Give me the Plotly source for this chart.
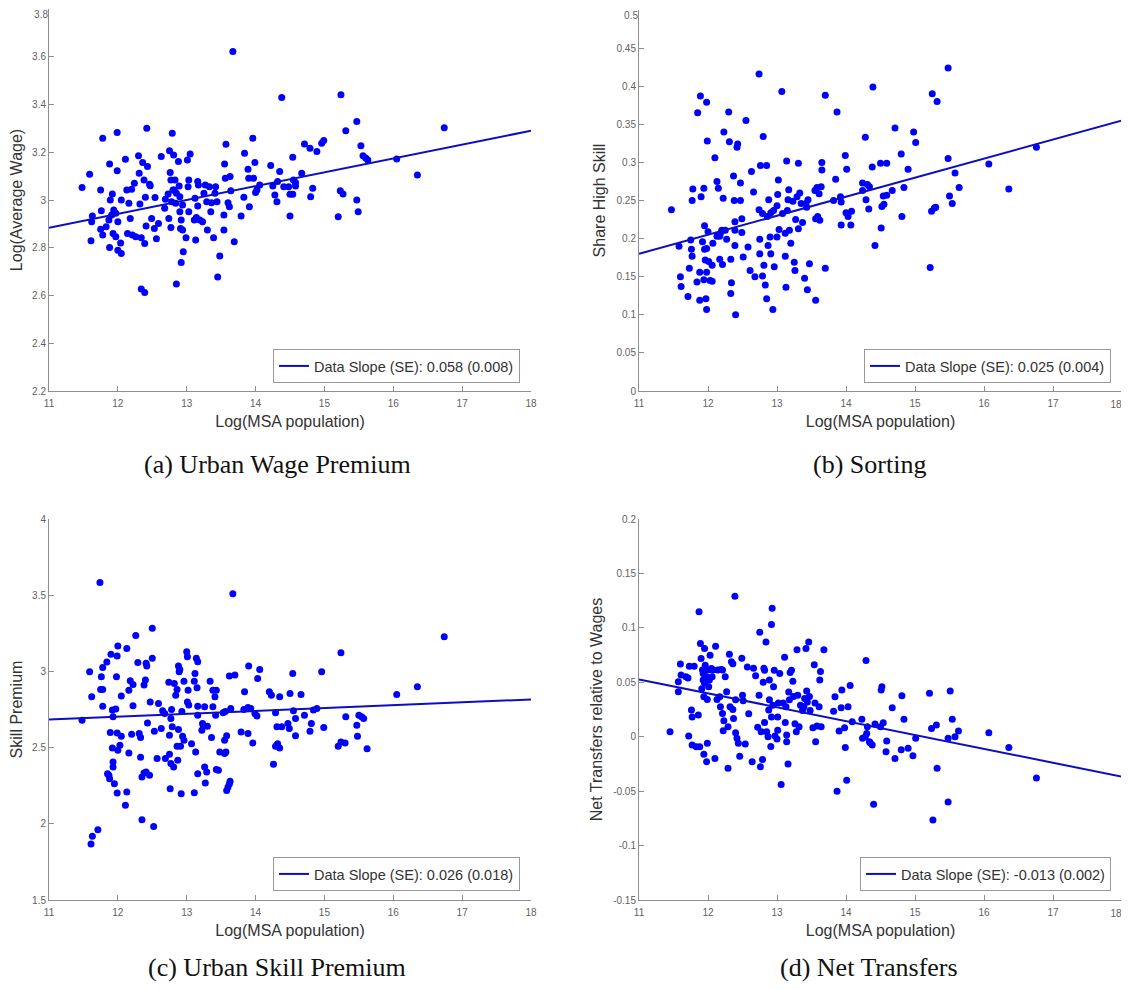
import plotly.graph_objects as go

# the page body adds an 8px margin on every side; the figure is sized and positioned to compensate
OFF = 8
W, H = 1129 - OFF, 990 - 2 * OFF

# ---------------- data: (a) Urban Wage Premium ----------------
xa = [11.48, 11.59, 11.61, 11.63, 11.62, 11.75, 11.78, 11.76, 11.75, 11.78, 11.83, 11.88, 11.88, 11.89, 11.92,
      11.87, 11.91, 11.94, 11.97, 11.93, 11.97, 11.99, 11.99, 12.00, 12.00, 12.05, 12.05, 12.04, 12.11, 12.13,
      12.16, 12.18, 12.14, 12.21, 12.24, 12.20, 12.26, 12.30, 12.31, 12.32, 12.36, 12.38, 12.34, 12.39, 12.42,
      12.43, 12.40, 12.47, 12.46, 12.41, 12.34, 12.39, 12.49, 12.53, 12.54, 12.56, 12.59, 12.63, 12.68, 12.69,
      12.73, 12.75, 12.76, 12.77, 12.79, 12.81, 12.80, 12.78, 12.74, 12.77, 12.83, 12.84, 12.85, 12.82, 12.88,
      12.90, 12.89, 12.90, 12.91, 12.92, 12.94, 12.95, 12.92, 12.94, 12.85, 12.99, 13.01, 13.05, 13.03, 13.02,
      13.03, 13.12, 13.11, 13.13, 13.16, 13.17, 13.16, 13.14, 13.19, 13.23, 13.25, 13.27, 13.29, 13.30, 13.33,
      13.35, 13.36, 13.39, 13.41, 13.42, 13.44, 13.48, 13.45, 13.54, 13.54, 13.55, 13.57, 13.56, 13.60, 13.62,
      13.63, 13.64, 13.67, 13.69, 13.79, 13.83, 13.84, 13.89, 13.90, 13.91, 13.96, 13.99, 13.97, 14.00, 14.02,
      14.06, 14.22, 14.25, 14.28, 14.31, 14.32, 14.35, 14.38,
      14.41, 14.48, 14.54, 14.54, 14.50, 14.58, 14.58, 14.50, 14.55, 14.67, 14.71, 14.79, 14.83, 14.80, 14.89,
      14.96, 14.99, 15.24, 15.31, 15.23, 15.27, 15.20, 15.47, 15.53, 15.56, 15.60, 15.63, 15.47, 15.49, 16.05,
      16.35, 16.74]
ya = [3.052, 3.108, 2.829, 2.933, 2.909, 3.042, 3.259, 2.955, 2.877, 2.853, 2.888, 2.801, 3.151, 3.000, 3.025,
      2.916, 2.937, 2.958, 2.944, 2.860, 2.846, 3.283, 3.122, 2.909, 2.790, 3.000, 2.776, 2.820, 3.171, 3.042,
      2.986, 2.923, 2.860, 2.853, 3.070, 3.045, 2.846, 3.185, 3.112, 2.983, 3.157, 3.084, 2.842, 2.818, 3.301,
      3.140, 3.011, 3.060, 3.066, 2.891, 2.627, 2.613, 2.923, 2.881, 3.010, 2.838, 2.902, 3.182, 2.965, 3.003,
      3.025, 3.206, 3.115, 3.084, 3.280, 3.189, 3.042, 2.993, 2.923, 2.885, 3.084, 2.986, 3.028, 3.042, 3.161,
      3.014, 3.059, 2.951, 2.881, 2.916, 2.874, 2.783, 2.738, 2.979, 2.648, 2.842, 3.168, 3.193, 3.084, 3.056,
      2.951, 3.007, 2.916, 2.832, 3.077, 3.063, 2.975, 2.927, 2.916, 2.909, 3.028, 3.063, 2.993, 2.874, 3.056,
      2.951, 2.989, 2.842, 3.028, 3.056, 2.993, 2.765, 2.678, 2.874, 2.937, 3.151, 3.234, 3.091, 2.989, 2.972,
      3.098, 3.039, 3.622, 2.825, 2.933, 3.011, 3.196, 3.129, 3.091, 2.972, 3.259, 3.157, 3.091, 3.031, 3.042,
      3.063, 3.144, 3.059, 3.021, 2.993, 3.077, 3.119, 3.429,
      3.056, 3.056, 3.179, 3.024, 3.024, 3.073, 3.059, 2.933, 3.084, 3.112, 3.235, 3.217, 3.049, 3.014, 3.203,
      3.238, 3.249, 3.441, 3.290, 3.039, 3.025, 2.930, 3.329, 3.227, 3.185, 3.176, 3.168, 3.000, 2.951, 3.172,
      3.105, 3.303]

# ---------------- data: (b) Sorting ----------------
xb = [11.47, 11.58, 11.60, 11.61, 11.71, 11.73, 11.75, 11.77, 11.76, 11.78, 11.77, 11.84, 11.85, 11.89, 11.88,
      11.88, 11.90, 11.94, 11.92, 11.94, 11.95, 11.95, 11.96, 11.97, 11.98, 11.98, 11.98, 11.99, 12.00, 11.98,
      12.01, 12.03, 12.06, 12.07, 12.06, 12.10, 12.13, 12.15, 12.13, 12.17, 12.18, 12.20, 12.17, 12.21, 12.23,
      12.22, 12.25, 12.27, 12.30, 12.31, 12.33, 12.34, 12.33, 12.37, 12.38, 12.39, 12.39, 12.39, 12.40, 12.42,
      12.43, 12.47, 12.47, 12.49, 12.49, 12.51, 12.55, 12.58, 12.61, 12.63, 12.66, 12.68, 12.74, 12.74, 12.75,
      12.75, 12.76, 12.79, 12.79, 12.80, 12.81, 12.83, 12.85, 12.85, 12.86, 12.88, 12.87, 12.90, 12.91, 12.91,
      12.94, 12.95, 12.96, 13.00, 13.01, 13.02, 13.00, 13.03, 13.07, 13.08, 13.12, 13.12, 13.13, 13.14, 13.15,
      13.16, 13.17, 13.18, 13.20, 13.23, 13.25, 13.26, 13.27, 13.29, 13.31, 13.31, 13.33, 13.35, 13.37, 13.40,
      13.42, 13.43, 13.44, 13.45, 13.47,
      13.56, 13.55, 13.58, 13.61, 13.64, 13.56, 13.59, 13.62, 13.65, 13.65, 13.70, 13.70, 13.82, 13.85, 13.87,
      13.92, 13.93, 13.93, 13.99, 14.00, 14.01, 14.03, 14.07, 14.08, 14.24, 14.24, 14.28, 14.29, 14.31, 14.34,
      14.33, 14.38, 14.39, 14.42, 14.50, 14.51, 14.52, 14.54, 14.55, 14.59, 14.59, 14.67, 14.71, 14.80, 14.81,
      14.84, 14.90, 14.98, 15.01, 15.22, 15.24, 15.25, 15.28, 15.30, 15.32, 15.48, 15.48, 15.50, 15.54, 15.58,
      15.64, 16.07, 16.36, 16.76]
yb = [0.238, 0.190, 0.150, 0.137, 0.124, 0.161, 0.198, 0.177, 0.186, 0.265, 0.250, 0.143, 0.365, 0.387, 0.156,
      0.119, 0.255, 0.266, 0.196, 0.146, 0.217, 0.186, 0.172, 0.121, 0.379, 0.187, 0.156, 0.328, 0.209, 0.107,
      0.170, 0.145, 0.165, 0.194, 0.144, 0.306, 0.275, 0.266, 0.203, 0.203, 0.207, 0.211, 0.173, 0.166, 0.340,
      0.253, 0.211, 0.199, 0.366, 0.327, 0.173, 0.142, 0.128, 0.282, 0.250, 0.222, 0.211, 0.191, 0.100, 0.320,
      0.324, 0.273, 0.250, 0.226, 0.208, 0.176, 0.355, 0.189, 0.158, 0.288, 0.261, 0.150, 0.416, 0.238, 0.180,
      0.199, 0.296, 0.151, 0.233, 0.334, 0.165, 0.139, 0.121, 0.296, 0.229, 0.251, 0.191, 0.202, 0.180, 0.234,
      0.107, 0.237, 0.163, 0.243, 0.258, 0.277, 0.202, 0.212, 0.393, 0.233, 0.177, 0.207, 0.136, 0.302, 0.237,
      0.251, 0.264, 0.211, 0.194, 0.249, 0.169, 0.158, 0.225, 0.255, 0.299, 0.213, 0.260, 0.246, 0.221, 0.148,
      0.246, 0.241, 0.133, 0.251, 0.167,
      0.119, 0.263, 0.267, 0.259, 0.268, 0.226, 0.229, 0.224, 0.300, 0.290, 0.388, 0.161, 0.250, 0.278, 0.366,
      0.255, 0.248, 0.218, 0.309, 0.234, 0.291, 0.229, 0.218, 0.236, 0.273, 0.263, 0.333, 0.251, 0.271, 0.268,
      0.239, 0.294, 0.399, 0.191, 0.299, 0.214, 0.242, 0.256, 0.245, 0.299, 0.257, 0.263, 0.345, 0.311, 0.229,
      0.267, 0.291, 0.340, 0.326, 0.162, 0.236, 0.390, 0.240, 0.241, 0.380, 0.424, 0.305, 0.256, 0.246, 0.286,
      0.267, 0.298, 0.265, 0.320]

# ---------------- data: (c) Urban Skill Premium ----------------
xc = [11.48, 11.59, 11.62, 11.61, 11.63, 11.71, 11.74, 11.76, 11.78, 11.75, 11.78, 11.78, 11.84, 11.85, 11.87,
      11.88, 11.89, 11.90, 11.92, 11.93, 11.92, 11.93, 11.93, 11.95, 11.98, 11.99, 12.00, 11.97, 11.99, 12.00,
      11.99, 12.03, 12.05, 12.05, 12.13, 12.13, 12.11, 12.16, 12.16, 12.18, 12.22, 12.22, 12.20, 12.26, 12.29,
      12.31, 12.33, 12.33, 12.35, 12.35, 12.38, 12.40, 12.41, 12.42, 12.38, 12.41, 12.46, 12.43, 12.47, 12.50,
      12.50, 12.52, 12.53, 12.57, 12.59, 12.63, 12.65, 12.68, 12.69, 12.74, 12.75, 12.75, 12.76, 12.77, 12.77,
      12.78, 12.79, 12.81, 12.82, 12.84, 12.86, 12.86, 12.87, 12.88, 12.89, 12.90, 12.88, 12.91, 12.92, 12.93,
      12.94, 12.96, 12.96, 13.00, 13.01, 13.01, 13.02, 13.03, 13.07, 13.11, 13.12, 13.11, 13.14, 13.15, 13.16,
      13.16, 13.16, 13.13, 13.16, 13.22, 13.23, 13.24, 13.26, 13.27, 13.26, 13.29, 13.30, 13.34, 13.36, 13.38,
      13.38, 13.41, 13.42, 13.43, 13.43, 13.46, 13.48, 13.53, 13.55, 13.56, 13.58, 13.60, 13.62, 13.63, 13.58,
      13.57, 13.55, 13.62, 13.64, 13.67, 13.70, 13.79, 13.83, 13.84, 13.89, 13.89, 13.90, 13.93, 13.96, 13.99,
      14.02, 14.03, 14.06, 14.20, 14.23, 14.26, 14.29, 14.29, 14.31, 14.32, 14.35, 14.35, 14.38, 14.47,
      14.50, 14.49, 14.54, 14.55, 14.58, 14.58, 14.66, 14.71, 14.79, 14.81, 14.84, 14.89, 14.96, 14.99, 15.24,
      15.20, 15.24, 15.30, 15.31, 15.47, 15.48, 15.50, 15.54, 15.57, 15.62, 16.05, 16.35, 16.74]
yc = [2.680, 2.998, 2.833, 1.868, 1.919, 1.961, 3.583, 2.965, 3.026, 2.882, 2.882, 2.772, 3.061, 2.329, 2.318,
      2.296, 2.599, 3.112, 2.746, 2.702, 2.498, 2.406, 2.373, 2.263, 2.965, 3.101, 3.167, 2.754, 2.596, 2.482,
      2.202, 2.515, 2.838, 2.575, 3.151, 2.208, 2.121, 2.877, 2.465, 2.939, 2.774, 2.914, 2.588, 3.235, 3.059,
      2.592, 2.436, 2.566, 2.307, 2.026, 2.910, 2.943, 3.053, 3.035, 2.333, 2.340, 2.318, 2.662, 2.800, 3.086,
      3.283, 1.982, 2.607, 2.428, 2.789, 2.625, 2.741, 2.724, 2.428, 2.928, 2.581, 2.456, 2.230, 2.691, 2.395,
      2.750, 2.636, 2.373, 2.921, 2.844, 2.882, 2.509, 2.417, 3.035, 2.998, 3.013, 2.618, 2.509, 2.197, 2.737,
      2.575, 2.936, 2.548, 3.129, 3.096, 2.800, 2.877, 2.779, 2.526, 2.936, 2.987, 2.204, 3.086, 2.893, 3.064,
      2.772, 2.713, 2.471, 2.329, 2.614, 2.658, 2.647, 2.768, 2.268, 2.373, 2.340, 2.640, 2.936, 2.566, 2.768,
      2.877, 2.833, 2.713, 2.877, 2.357, 2.351, 2.471, 2.728, 2.548, 2.737, 2.219, 2.241, 2.263, 2.279, 2.577,
      2.471, 2.461, 2.969, 2.757, 3.509, 2.976, 2.603, 2.750, 2.866, 2.592, 2.763, 3.035, 2.757, 2.531, 2.724,
      2.708, 2.954, 3.013, 2.866, 2.844, 2.390, 2.509, 2.728, 2.636, 2.526, 2.833, 2.498, 2.636, 2.658,
      2.855, 2.625, 2.987, 2.741, 2.691, 2.577, 2.849, 2.713, 2.607, 2.658, 2.746, 2.757, 2.998, 2.632, 3.123,
      2.509, 2.537, 2.531, 2.702, 2.647, 2.575, 2.713, 2.702, 2.691, 2.493, 2.849, 2.899, 3.228]

# ---------------- data: (d) Net Transfers ----------------
xd = [11.45, 11.57, 11.57, 11.60, 11.61, 11.68, 11.71, 11.73, 11.76, 11.77, 11.72, 11.77, 11.80, 11.83, 11.86,
      11.87, 11.88, 11.89, 11.90, 11.92, 11.93, 11.94, 11.94, 11.95, 11.96, 11.98, 11.98, 11.99, 11.99, 12.00,
      12.01, 12.02, 12.05, 12.06, 12.03, 12.07, 12.10, 12.11, 12.13, 12.14, 12.17, 12.18, 12.19, 12.21, 12.21,
      12.22, 12.25, 12.27, 12.29, 12.32, 12.31, 12.34, 12.36, 12.37, 12.39, 12.23, 12.29, 12.36, 12.40, 12.40,
      12.42, 12.44, 12.46, 12.49, 12.50, 12.51, 12.54, 12.57, 12.59, 12.64, 12.66, 12.69, 12.72, 12.74, 12.75,
      12.76, 12.77, 12.79, 12.80, 12.81, 12.82, 12.84, 12.82, 12.85, 12.87, 12.88, 12.89, 12.89, 12.91, 12.92,
      12.93, 12.92, 12.94, 12.95, 12.96, 12.97, 13.00, 13.01, 13.02, 13.01, 13.04, 13.06, 13.09, 13.11, 13.12,
      13.13, 13.14, 13.14, 13.16, 13.17, 13.18, 13.19, 13.21, 13.23, 13.24, 13.26, 13.28, 13.29, 13.30, 13.32,
      13.34, 13.37, 13.39, 13.40, 13.42, 13.43, 13.44, 13.46, 13.47, 13.48, 13.52, 13.54, 13.55, 13.56, 13.58,
      13.61, 13.62, 13.63, 13.64, 13.68, 11.93, 11.95, 11.91,
      13.84, 13.94, 13.93, 14.03, 14.06, 13.82, 13.90, 13.98, 13.99, 14.01, 13.87, 14.09, 14.23, 14.29, 14.24,
      14.28, 14.30, 14.31, 14.34, 14.35, 14.38, 14.40, 14.42, 14.50, 14.51, 14.52, 14.54, 14.59, 14.58, 14.67,
      14.71, 14.80, 14.81, 14.84, 14.90, 14.97, 15.01, 15.21, 15.24, 15.26, 15.31, 15.32, 15.48, 15.48, 15.51,
      15.54, 15.58, 15.63, 16.07, 16.36, 16.76]
yd = [0.0046, 0.0413, 0.0505, 0.0667, 0.0566, 0.0550, 0.0540, 0.0648, 0.0245, 0.0180, 0.0006, -0.0076, 0.0648,
      -0.0092, 0.0200, 0.1147, -0.0092, 0.0856, 0.0719, 0.0612, 0.0520, 0.0367, -0.0162, 0.0810, 0.0657, 0.0550,
      -0.0229, 0.0343, -0.0061, 0.0612, 0.0459, 0.0520, 0.0627, 0.0550, 0.0749, 0.0612, -0.0199, 0.0832, 0.0343,
      0.0612, 0.0367, 0.0275, 0.0618, 0.0612, 0.0214, 0.0055, 0.0550, 0.0413, -0.0290, 0.0275, 0.0758, 0.0688,
      0.0251, 0.0168, 0.1290, 0.0147, 0.0092, 0.0670, 0.0340, 0.0037, -0.0015, -0.0060, -0.0180, 0.0720, 0.0380,
      0.0330, -0.0067, 0.0640, 0.0210, -0.0230, 0.0630, 0.0560, 0.0086, 0.0380, 0.0960, -0.0275, 0.0046, -0.0210,
      0.0500, 0.0630, 0.0610, 0.0870, 0.0130, 0.0046, 0.0000, 0.0245, 0.0520, 0.0340, -0.0090, 0.1030, 0.1180,
      0.0180, 0.0290, 0.0460, 0.0610, 0.0006, -0.0020, 0.0060, 0.0310, 0.0180, 0.0580, -0.0440, 0.0310, 0.0730,
      0.0130, 0.0275, 0.0015, -0.0046, -0.0250, 0.0410, 0.0340, 0.0590, 0.0610, 0.0510, 0.0370, 0.0120, 0.0046,
      0.0800, 0.0380, 0.0092, 0.0290, 0.0240, 0.0275, 0.0350, 0.0810, 0.0420, 0.0320, 0.0870, 0.0370, 0.0240,
      0.0083, 0.0660, 0.0310, -0.0046, 0.0098, 0.0275, 0.0520, 0.0600, 0.0092, 0.0800, 0.0580, 0.0490, 0.0440,
      0.0367, 0.0430, 0.0266, 0.0275, 0.0470, 0.0235, 0.0052, 0.0083, -0.0100, -0.0400, -0.0500, 0.0138, 0.0160,
      0.0700, -0.0015, 0.0000, 0.0030, 0.0092, -0.0046, -0.0055, -0.0076, -0.0620, 0.0116, 0.0092, 0.0430, 0.0460,
      0.0128, -0.0040, -0.0138, 0.0266, -0.0200, -0.0120, 0.0376, 0.0160, -0.0107, -0.0174, -0.0015, 0.0400,
      0.0076, -0.0765, 0.0107, -0.0290, -0.0015, -0.0600, 0.0420, 0.0160, 0.0000, 0.0052, 0.0037, -0.0100, -0.0380]

# fitted lines (endpoints at x = 11 and x = 18)
fit_x = [11, 18]
fit_a = [2.884, 3.290]
fit_b = [0.180, 0.355]
fit_c = [2.684, 2.816]
fit_d = [0.0526, -0.0367]

x_ticks = [11, 12, 13, 14, 15, 16, 17, 18]
ticks_a = [2.2, 2.4, 2.6, 2.8, 3.0, 3.2, 3.4, 3.6, 3.8]
labels_a = ["2.2", "2.4", "2.6", "2.8", "3", "3.2", "3.4", "3.6", "3.8"]
ticks_b = [0, 0.05, 0.1, 0.15, 0.2, 0.25, 0.3, 0.35, 0.4, 0.45, 0.5]
labels_b = ["0", "0.05", "0.1", "0.15", "0.2", "0.25", "0.3", "0.35", "0.4", "0.45", "0.5"]
ticks_c = [1.5, 2, 2.5, 3, 3.5, 4]
labels_c = ["1.5", "2", "2.5", "3", "3.5", "4"]
ticks_d = [-0.15, -0.1, -0.05, 0, 0.05, 0.1, 0.15, 0.2]
labels_d = ["-0.15", "-0.1", "-0.05", "0", "0.05", "0.1", "0.15", "0.2"]

legend_texts = ["Data Slope (SE): 0.058 (0.008)", "Data Slope (SE): 0.025 (0.004)",
                "Data Slope (SE): 0.026 (0.018)", "Data Slope (SE): -0.013 (0.002)"]
y_titles = ["Log(Average Wage)", "Share High Skill", "Skill Premium", "Net Transfers relative to Wages"]
captions = ["(a) Urban Wage Premium", "(b) Sorting", "(c) Urban Skill Premium", "(d) Net Transfers"]
x_title = "Log(MSA population)"

# ---------------- layout geometry (pixels in the 1129x990 window) ----------------
panels = [
    dict(x=xa, y=ya, fit=fit_a, xpx=(49, 531), ypx=(9, 391), yr=(2.2, 3.8), tv=ticks_a, tt=labels_a,
         leg=(520, 383), cap=(277, 465), right_edge=False, top_edge=True),
    dict(x=xb, y=yb, fit=fit_b, xpx=(639, 1122), ypx=(10, 391), yr=(0, 0.5), tv=ticks_b, tt=labels_b,
         leg=(1111, 383), cap=(869, 465), right_edge=True, top_edge=True),
    dict(x=xc, y=yc, fit=fit_c, xpx=(49, 531), ypx=(519, 900), yr=(1.5, 4), tv=ticks_c, tt=labels_c,
         leg=(520, 891), cap=(277, 967), right_edge=False, top_edge=False),
    dict(x=xd, y=yd, fit=fit_d, xpx=(639, 1122), ypx=(519, 900), yr=(-0.15, 0.2), tv=ticks_d, tt=labels_d,
         leg=(1111, 891), cap=(869, 967), right_edge=True, top_edge=False),
]


def fx(p):
    return (p - OFF) / W


def fy(p):
    return 1 - (p - OFF) / H


BLUE = "#0000ff"
LINE = "#0d0dc4"
AX = "#8f8f8f"
SANS = "Liberation Sans, Arial, Helvetica, sans-serif"
TICKFONT = dict(size=10, color="#5f5f5f", family=SANS)

fig = go.Figure()
layout = dict(width=W, height=H, margin=dict(l=0, r=0, t=0, b=0),
              paper_bgcolor="white", plot_bgcolor="white", annotations=[],
              font=dict(family=SANS))

extra = 5
for i, p in enumerate(panels):
    n = "" if i == 0 else str(i + 1)
    legname = "legend" + n
    fig.add_trace(go.Scatter(x=p["x"], y=p["y"], mode="markers", showlegend=False,
                             marker=dict(color=BLUE, size=7, line=dict(width=0)),
                             xaxis="x" + n, yaxis="y" + n, hoverinfo="x+y"))
    fig.add_trace(go.Scatter(x=fit_x, y=p["fit"], mode="lines", name=legend_texts[i],
                             line=dict(color=LINE, width=2), xaxis="x" + n, yaxis="y" + n,
                             legend=legname, showlegend=True))
    x0, x1 = p["xpx"]
    y0, y1 = p["ypx"]
    common = dict(showline=True, linecolor=AX, linewidth=1, mirror=False, showgrid=False,
                  zeroline=False, ticks="inside", ticklen=5, tickcolor=AX, tickwidth=1,
                  ticklabeloverflow="allow", tickfont=TICKFONT, automargin=False)
    xt = [str(v) for v in x_ticks]
    if p["right_edge"]:
        xt[-1] = ""  # drawn by a helper axis nudged inward so it stays inside the page
    yt = list(p["tt"])
    if p["top_edge"]:
        yt[-1] = ""  # drawn by a helper axis nudged down so it stays inside the page
    layout["xaxis" + n] = dict(common, domain=[fx(x0), fx(x1)], range=[11, 18],
                               tickvals=x_ticks, ticktext=xt,
                               anchor="y" + n, ticklabelstandoff=3,
                               title=dict(text=x_title, font=dict(size=16, color="#333333", family=SANS),
                                          standoff=7))
    layout["yaxis" + n] = dict(common, domain=[fy(y1), fy(y0)], range=list(p["yr"]),
                               tickvals=p["tv"], ticktext=yt, anchor="x" + n,
                               title=dict(text=y_titles[i], font=dict(size=16, color="#333333", family=SANS),
                                          standoff=6))
    if p["right_edge"]:
        hn = str(extra)
        extra += 1
        layout["xaxis" + hn] = dict(overlaying="x" + n, anchor="y" + n, side="bottom",
                                    range=[11, 18], showline=False, showgrid=False, zeroline=False,
                                    ticks="", tickvals=[x_ticks[-1]], ticktext=[str(x_ticks[-1])],
                                    tickfont=TICKFONT, ticklabelstandoff=6, ticklabelshift=-6,
                                    ticklabeloverflow="allow", automargin=False)
        fig.add_trace(go.Scatter(x=[x_ticks[-1]], y=[p["yr"][0]], mode="markers", showlegend=False,
                                 marker=dict(opacity=0, size=1), hoverinfo="skip",
                                 xaxis="x" + hn, yaxis="y" + n))
    if p["top_edge"]:
        hn = str(extra)
        extra += 1
        layout["yaxis" + hn] = dict(overlaying="y" + n, anchor="x" + n, side="left",
                                    range=list(p["yr"]), showline=False, showgrid=False, zeroline=False,
                                    ticks="", tickvals=[p["tv"][-1]], ticktext=[p["tt"][-1]],
                                    tickfont=TICKFONT, ticklabelshift=5,
                                    ticklabeloverflow="allow", automargin=False)
        fig.add_trace(go.Scatter(x=[11], y=[p["tv"][-1]], mode="markers", showlegend=False,
                                 marker=dict(opacity=0, size=1), hoverinfo="skip",
                                 xaxis="x" + n, yaxis="y" + hn))
    lx, ly = p["leg"]
    layout[legname] = dict(x=fx(lx), y=fy(ly), xanchor="right", yanchor="bottom",
                           xref="paper", yref="paper",
                           bgcolor="white", bordercolor="#9a9a9a", borderwidth=1,
                           font=dict(size=14.5, color="#333333", family=SANS), itemwidth=30,
                           tracegroupgap=0)
    cx, cy = p["cap"]
    layout["annotations"].append(dict(text=captions[i], x=fx(cx), y=fy(cy), xref="paper", yref="paper",
                                      xanchor="center", yanchor="middle", showarrow=False,
                                      font=dict(family="Liberation Serif, Times New Roman, serif",
                                                size=26, color="#111111")))

fig.update_layout(**layout)
fig.write_html("out.html")
